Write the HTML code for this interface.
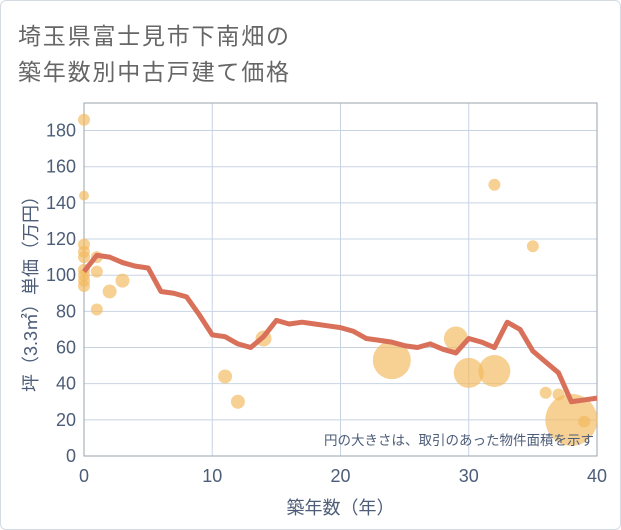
<!DOCTYPE html>
<html><head><meta charset="utf-8"><style>
body{margin:0;background:#fff;}
#wrap{position:relative;width:619px;height:528px;border:1px solid #d5dbe3;border-radius:6px;overflow:hidden;background:#fff;font-family:"Liberation Sans","Noto Sans CJK JP",sans-serif;}
.title{position:absolute;left:17px;font-size:23px;color:#666;letter-spacing:1.8px;}
</style></head><body>
<div id="wrap">
<div class="title" style="top:16px">埼玉県富士見市下南畑の</div>
<div class="title" style="top:52px">築年数別中古戸建て価格</div>
<svg id="chart" width="621" height="530" style="position:absolute;left:-1px;top:-1px"></svg>
</div>
<script>
const xTicks=[0,10,20,30,40];
const yTicks=[0,20,40,60,80,100,120,140,160,180];
const lineYears=[0,1,2,3,4,5,6,7,8,9,10,11,12,13,14,15,16,17,18,19,20,21,22,23,24,25,26,27,28,29,30,31,32,33,34,35,36,37,38,39,40];
const lineValues=[102,111,110,107,105,104,91,90,88,78,67,66,62,60,66,75,73,74,73,72,71,69,65,64,63,61,60,62,59,57,65,63,60,74,70,58,52,46,30,31,32];
const bubbleYears=[0,0,0,0,0,0,0,0,0,1,1,1,2,3,11,12,14,24,29,30,32,32,35,36,37,38,39];
const bubbleValues=[186,144,117,113,110,103,100,97,94,110,102,81,91,97,44,30,65,53,65,46,47,150,116,35,34,20,19];
const bubbleRadii=[6,5,6,6,6,6,6,6,6,6,6,6,7,7,7,7,8,19,12,15,16,6,6,6,6,26,6];
const NS='http://www.w3.org/2000/svg';
const svg=document.getElementById('chart');
const L=84,R=597,T=103,B=456;
const xs=v=>L+(v-0)/40*(R-L);
const ys=v=>B-v*1.808;
function mk(t,a){const e=document.createElementNS(NS,t);for(const k in a)e.setAttribute(k,a[k]);svg.appendChild(e);return e;}
yTicks.forEach(v=>{const g=mk('line',{x1:L,x2:R,y1:ys(v),y2:ys(v),stroke:'#c9d4e3','stroke-width':1});

const t=mk('text',{x:L-8,y:ys(v)+6,'text-anchor':'end','font-size':18,fill:'#4d5d78'});t.textContent=v;
});
xTicks.forEach(v=>{const g=mk('line',{x1:xs(v),x2:xs(v),y1:T,y2:B,stroke:'#c9d4e3','stroke-width':1});

const t=mk('text',{x:xs(v),y:B+26,'text-anchor':'middle','font-size':18,fill:'#4d5d78'});t.textContent=v;
});
const fr=mk('rect',{x:L,y:T,width:R-L,height:B-T,fill:'none',stroke:'#9aa3ad','stroke-width':1});

bubbleYears.forEach((x,i)=>{const c=mk('circle',{cx:xs(x),cy:ys(bubbleValues[i]),r:bubbleRadii[i],fill:'#f2b95a','fill-opacity':0.65});
});
const pts=lineYears.map((x,i)=>xs(x)+','+ys(lineValues[i])).join(' ');
const pl=mk('polyline',{points:pts,fill:'none',stroke:'#d8705a','stroke-width':5,'stroke-linejoin':'round'});

const note=mk('text',{x:R-3,y:B-11,'text-anchor':'end','font-size':13.5,fill:'#4d5d78'});note.textContent='円の大きさは、取引のあった物件面積を示す';

const xt=mk('text',{x:(L+R)/2,y:514,'text-anchor':'middle','font-size':18,fill:'#4d5d78'});xt.textContent='築年数（年）';

const yt=mk('text',{x:37,y:(T+B)/2+10,'text-anchor':'middle','font-size':18,fill:'#4d5d78',transform:'rotate(-90 37 '+((T+B)/2+10)+')'});yt.textContent='坪（3.3㎡）単価（万円）';

</script>
</body></html>
